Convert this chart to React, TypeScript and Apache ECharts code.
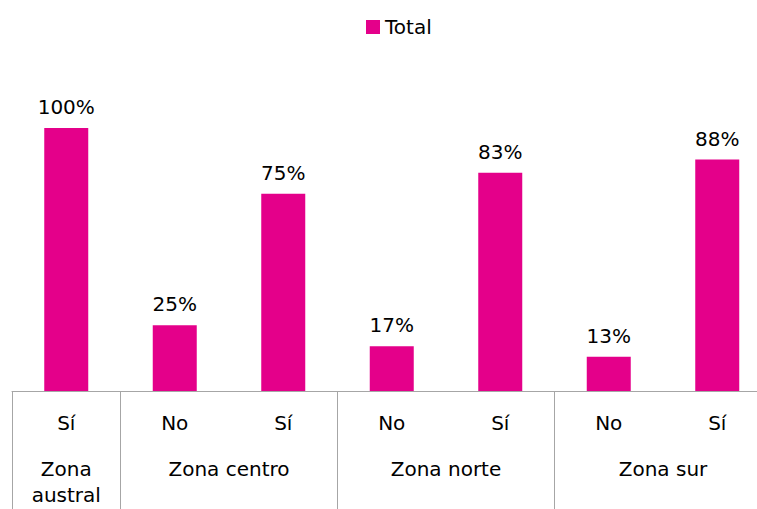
import React, { useEffect, useRef } from "react";
import * as echarts from "echarts";

const answers = ["Sí", "No", "Sí", "No", "Sí", "No", "Sí"];
const groups = ["Zona\naustral", "Zona centro", "Zona norte", "Zona sur"];
const groupCenters = [0.5, 2, 4, 6];
const groupBounds = [0, 1, 3, 5, 7];
const totals = [100, 25, 75, 17, 83, 13, 88];

const FONT = "DejaVu Sans";

export default function App() {
  const ref = useRef<HTMLDivElement>(null);
  useEffect(() => {
    if (!ref.current) return;
    const chart = echarts.init(ref.current, undefined, { renderer: "svg" });
    chart.setOption({
      animation: false,
      backgroundColor: "#ffffff",
      legend: {
        data: ["Total"],
        left: 361,
        top: 12,
        icon: "rect",
        itemWidth: 14,
        itemHeight: 14,
        textStyle: { fontFamily: FONT, fontSize: 20, color: "#000" },
      },
      grid: {
        left: 12,
        top: 128,
        width: 759.5,
        height: 263,
        containLabel: false,
        outerBoundsMode: "none",
      },
      xAxis: [
        {
          type: "category",
          data: answers,
          axisLine: { show: true, lineStyle: { color: "#A6A6A6", width: 1 } },
          axisTick: { show: false },
          axisLabel: {
            interval: 0,
            margin: 22,
            fontFamily: FONT,
            fontSize: 20,
            color: "#000",
          },
        },
        {
          type: "value",
          min: 0,
          max: 7,
          position: "bottom",
          splitLine: { show: false },
          axisLine: { show: false },
          axisTick: {
            show: true,
            customValues: groupBounds,
            length: 125,
            lineStyle: { color: "#A6A6A6", width: 1 },
          },
          axisLabel: {
            customValues: groupCenters,
            formatter: (v: number) => groups[groupCenters.indexOf(v)] ?? "",
            margin: 65,
            lineHeight: 26,
            fontFamily: FONT,
            fontSize: 20,
            color: "#000",
            align: "center",
            showMinLabel: true,
            showMaxLabel: true,
          },
        },
      ],
      yAxis: { type: "value", min: 0, max: 100, show: false, splitLine: { show: false } },
      series: [
        {
          name: "Total",
          type: "bar",
          data: totals,
          barWidth: 44,
          itemStyle: { color: "#E4008A" },
          label: {
            show: true,
            position: "top",
            distance: 11,
            formatter: "{c}%",
            fontFamily: FONT,
            fontSize: 20,
            color: "#000",
          },
        },
      ],
    });
    return () => chart.dispose();
  }, []);
  return (
    <div
      ref={ref}
      style={{ position: "fixed", left: 0, top: 0, width: 757, height: 509 }}
    />
  );
}
